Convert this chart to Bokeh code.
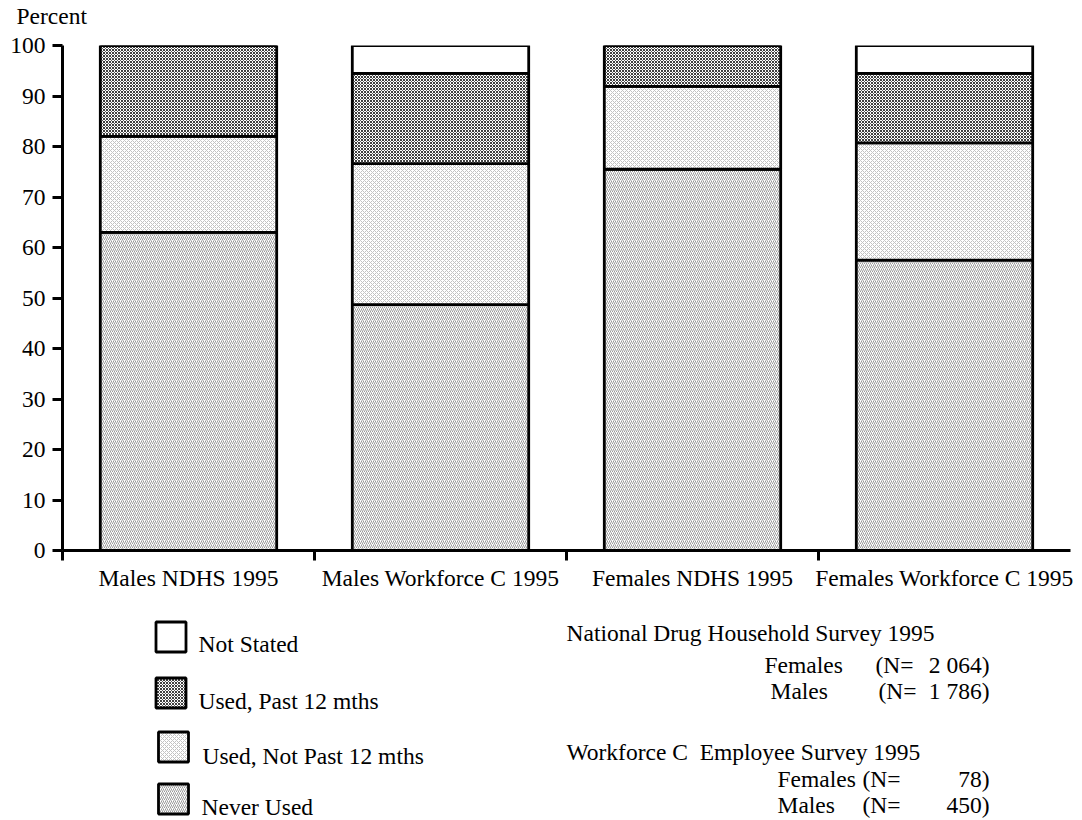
from bokeh.plotting import figure
from bokeh.models import Range1d, FixedTicker, Title
from bokeh.layouts import column
from bokeh.core.properties import value
from bokeh.embed import file_html
from bokeh.resources import INLINE

# ---------------- data ----------------
categories = ["Males NDHS 1995", "Males Workforce C 1995",
              "Females NDHS 1995", "Females Workforce C 1995"]
never_used = [63.0, 48.7, 75.5, 57.5]
used_not_past = [19.0, 27.9, 16.4, 23.2]
used_past = [18.0, 17.9, 8.1, 13.8]
not_stated = [0.0, 5.5, 0.0, 5.5]
series_names = ["Never Used", "Used, Not Past 12 mths", "Used, Past 12 mths", "Not Stated"]
y_ticks = [0, 10, 20, 30, 40, 50, 60, 70, 80, 90, 100]

ndhs_title = "National Drug Household Survey 1995"
ndhs_groups = ["Females", "Males"]
ndhs_n = ["2 064", "1 786"]
wf_title = "Workforce C\u00a0 Employee Survey 1995"
wf_groups = ["Females", "Males"]
wf_n = ["78", "450"]

FONT = "Liberation Serif"
FS = "23.5px"

# ---------------- layout sizes ----------------
W = 1078
H_TOP = 600
H_BOT = 218
LEFT, RIGHT = 62, 8

p = figure(width=W, height=H_TOP, output_backend="svg", toolbar_location=None,
           x_range=Range1d(0, len(categories)), y_range=Range1d(0, 100),
           min_border_left=LEFT, min_border_right=RIGHT, min_border_top=45,
           min_border_bottom=50)
p.outline_line_color = None
p.xgrid.visible = False
p.ygrid.visible = False

# title area: a thin spacer next to the frame, then the "Percent" caption above it
p.title.text = ""
p.title.standoff = 0
p.add_layout(Title(text=" ", text_font_size="1px", standoff=14), "above")
p.add_layout(Title(text="Percent", text_font=FONT, text_font_size=FS,
                   text_font_style="normal", text_color="black", align="left",
                   offset=-46, standoff=0, vertical_align="bottom"), "above")

xs = [i + 0.5 for i in range(len(categories))]
source = dict(x=xs, never=never_used, notpast=used_not_past,
              past=used_past, ns=not_stated)

styles = [
    dict(fill_color="white", hatch_pattern="/", hatch_color="#9a9a9a", hatch_scale=4, hatch_weight=1),
    dict(fill_color="white", hatch_pattern="x", hatch_color="#c2c2c2", hatch_scale=4, hatch_weight=1),
    dict(fill_color="white", hatch_pattern="x", hatch_color="#404040", hatch_scale=3, hatch_weight=1),
    dict(fill_color="white"),
]

renderers = p.vbar_stack(["never", "notpast", "past", "ns"], x="x", width=0.70,
                         source=source, line_color="black", line_width=2.8,
                         fill_color="white")
for r, st in zip(renderers, styles):
    for k, v in st.items():
        setattr(r.glyph, k, v)

# ---------------- axes ----------------
yax = p.yaxis[0]
yax.ticker = FixedTicker(ticks=y_ticks)
yax.axis_line_width = 3
yax.major_tick_line_width = 3
yax.major_tick_out = 10
yax.major_tick_in = 0
yax.minor_tick_line_color = None
yax.major_label_text_font = FONT
yax.major_label_text_font_size = FS
yax.major_label_text_color = "black"
yax.major_label_standoff = 7

xax = p.xaxis[0]
xax.ticker = FixedTicker(ticks=xs, minor_ticks=list(range(len(categories))))
xax.major_label_overrides = {x: c for x, c in zip(xs, categories)}
xax.axis_line_width = 3
xax.major_tick_line_color = None
xax.major_tick_out = 0
xax.major_tick_in = 0
xax.minor_tick_line_width = 3
xax.minor_tick_out = 10
xax.minor_tick_in = 0
xax.major_label_text_font = FONT
xax.major_label_text_font_size = FS
xax.major_label_text_color = "black"
xax.major_label_standoff = 4

# ---------------- lower panel: legend + survey notes ----------------
# data coordinates of this panel equal picture pixels (frame aligned with the chart's frame)
p2 = figure(width=W, height=H_BOT, output_backend="svg", toolbar_location=None,
            x_range=Range1d(LEFT, W - RIGHT), y_range=Range1d(H_TOP + H_BOT, H_TOP),
            min_border_left=LEFT, min_border_right=RIGHT, min_border_top=0,
            min_border_bottom=0, x_axis_location=None, y_axis_location=None)
p2.outline_line_color = None
p2.xgrid.visible = False
p2.ygrid.visible = False

legend_order = [3, 2, 1, 0]
box_x = [170.5, 170.5, 173, 173]
box_y = [636.5, 692.5, 746.5, 798.5]
lab_x = [198, 198, 202, 201]
lab_y = [643, 700, 755, 806]
for k, idx in enumerate(legend_order):
    p2.rect(x=[box_x[k]], y=[box_y[k]], width=30, height=30,
            line_color="black", line_width=2.8, **styles[idx])
p2.text(x=lab_x, y=lab_y, text=[series_names[i] for i in legend_order],
        text_font=value(FONT), text_font_size=value(FS), text_color="black",
        text_baseline="middle", text_align="left")

# survey notes
p2.text(x=[566, 566], y=[632, 751], text=[ndhs_title, wf_title],
        text_font=value(FONT), text_font_size=value(FS), text_color="black",
        text_baseline="middle", text_align="left")
group_x = [764, 770, 777, 777]
group_y = [664, 690, 778, 804]
neq_x = [875, 878, 862, 862]
p2.text(x=group_x, y=group_y, text=ndhs_groups + wf_groups,
        text_font=value(FONT), text_font_size=value(FS), text_color="black",
        text_baseline="middle", text_align="left")
p2.text(x=neq_x, y=group_y, text=["(N="] * 4,
        text_font=value(FONT), text_font_size=value(FS), text_color="black",
        text_baseline="middle", text_align="left")
p2.text(x=[989] * 4, y=group_y, text=[n + ")" for n in ndhs_n + wf_n],
        text_font=value(FONT), text_font_size=value(FS), text_color="black",
        text_baseline="middle", text_align="right")

layout = column(p, p2, spacing=0)
open("out.html", "w").write(file_html(layout, INLINE))
